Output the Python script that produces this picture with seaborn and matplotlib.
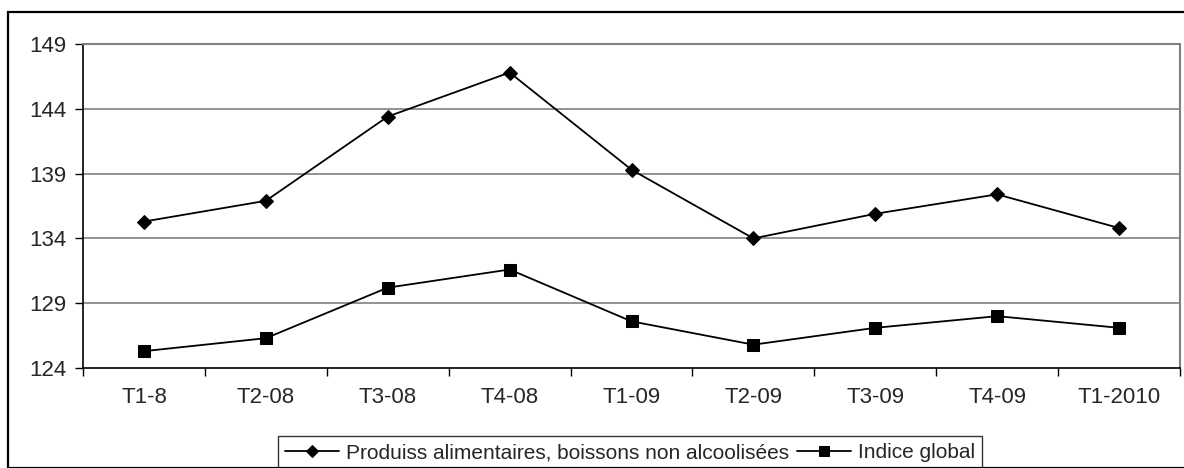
import numpy as np
import pandas as pd
import matplotlib
matplotlib.use("Agg")
import matplotlib.pyplot as plt
import seaborn as sns
from matplotlib.patches import Rectangle
from matplotlib.ticker import FixedLocator

# data
quarters = ["T1-8", "T2-08", "T3-08", "T4-08", "T1-09", "T2-09", "T3-09", "T4-09", "T1-2010"]
food = [135.3, 136.9, 143.4, 146.8, 139.3, 134.0, 135.9, 137.4, 134.8]
overall = [125.3, 126.3, 130.2, 131.6, 127.6, 125.8, 127.1, 128.0, 127.1]
label_food = "Produiss alimentaires, boissons non alcoolisées"
label_overall = "Indice global"
yticks = [124, 129, 134, 139, 144, 149]

sns.set_theme(style="white")
plt.rcParams["font.family"] = ["Liberation Sans", "DejaVu Sans"]

df = pd.DataFrame({"quarter": quarters, "food": food, "overall": overall})
df["pos"] = np.arange(len(quarters))

fig = plt.figure(figsize=(11.84, 4.68), dpi=100)
ax = fig.add_axes([83 / 1184, 1 - 368 / 468, (1180 - 83) / 1184, (368 - 44) / 468])

# outer chart border (right and bottom edges fall outside the picture)
fig.patches.append(Rectangle((8 / 1184, 0), 1.2, 1 - 12 / 468, transform=fig.transFigure,
                             fill=False, edgecolor="black", linewidth=1.6))

for y in yticks[1:]:
    ax.axhline(y, color="#808080", linewidth=1.2, zorder=1)

sns.lineplot(data=df, x="pos", y="food", ax=ax, color="black", linewidth=1.3,
             marker="D", markersize=7, markeredgecolor="black", label=label_food, zorder=3)
sns.lineplot(data=df, x="pos", y="overall", ax=ax, color="black", linewidth=1.3,
             marker="s", markersize=8, markeredgecolor="black", label=label_overall, zorder=3)

ax.set_xlim(-0.5, len(quarters) - 0.5)
ax.set_ylim(124, 149)
ax.set_xlabel("")
ax.set_ylabel("")

ax.set_yticks(yticks)
ax.set_yticklabels([str(v) for v in yticks], fontsize=16)
ax.set_xticks(df["pos"])
ax.set_xticklabels(quarters, fontsize=16)
ax.xaxis.set_minor_locator(FixedLocator(np.arange(-0.5, len(quarters), 1.0)))
ax.tick_params(axis="x", which="major", length=0, pad=14)
ax.tick_params(axis="x", which="minor", length=6, width=1, color="black", direction="out", bottom=True)
ax.tick_params(axis="y", which="major", length=6, width=1, color="black", direction="out", left=True, pad=6)

for side in ["left", "bottom"]:
    ax.spines[side].set_color("black")
    ax.spines[side].set_linewidth(1.2)
for side in ["top", "right"]:
    ax.spines[side].set_color("#808080")
    ax.spines[side].set_linewidth(1.5)

leg = ax.legend(loc="upper center", bbox_to_anchor=(630 / 1184, 1 - 436 / 468),
                bbox_transform=fig.transFigure, ncol=2, fontsize=15, frameon=True,
                fancybox=False, edgecolor="black", handlelength=2.6, handletextpad=0.3,
                columnspacing=0.4, borderpad=0.35, borderaxespad=0, markerscale=0.85)
leg.get_frame().set_linewidth(1.0)

fig.savefig("out.png", dpi=100)
